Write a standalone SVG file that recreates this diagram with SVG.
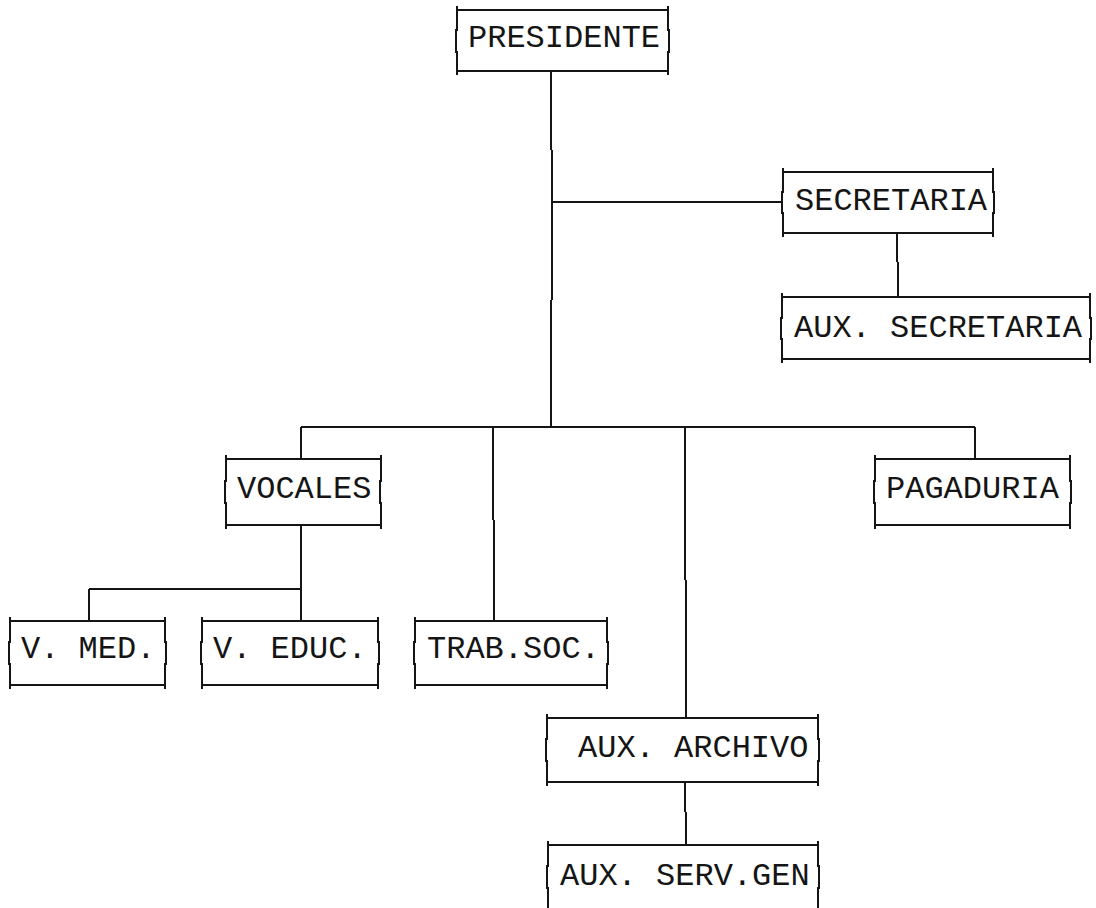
<svg xmlns="http://www.w3.org/2000/svg" width="1096" height="908" viewBox="0 0 1096 908">
<style>
.b{fill:none;stroke:#151515;stroke-width:2;stroke-linecap:square}
.c{fill:none;stroke:#151515;stroke-width:2}
.t{font-family:"Liberation Mono","DejaVu Sans Mono",monospace;font-size:32px;fill:#151515}
</style>
<rect width="1096" height="908" fill="#ffffff"/>
<g id="connectors">
<path class="c" d="M551 71 V150 M552 150 V300 M551 300 V427"/>
<path class="c" d="M551 202 H783"/>
<path class="c" d="M897 233 V262 M898 262 V297"/>
<path class="c" d="M301 427 H975"/>
<path class="c" d="M301 427 V459"/>
<path class="c" d="M493 427 V520 M494 520 V621"/>
<path class="c" d="M685 427 V580 M686 580 V718"/>
<path class="c" d="M975 427 V459"/>
<path class="c" d="M301 525 V589 M89 589 H301 M89 589 V621 M301 589 V621"/>
<path class="c" d="M685 782 V812 M686 812 V845"/>
</g>
<g id="presidente">
<path class="b" d="M457 10 H668 M457 71 H668 M457 7 V30 M456 30 V52 M457 52 V74 M668 7 V30 M669 30 V52 M668 52 V74"/>
<text class="t" x="468" y="47">PRESIDENTE</text>
</g>
<g id="secretaria">
<path class="b" d="M783 172 H993 M783 233 H993 M783 169 V192 M782 192 V213 M783 213 V236 M993 169 V192 M994 192 V213 M993 213 V236"/>
<text class="t" x="795" y="210">SECRETARIA</text>
</g>
<g id="aux-secretaria">
<path class="b" d="M782 297 H1090 M782 359 H1090 M782 294 V318 M781 318 V339 M782 339 V362 M1090 294 V318 M1091 318 V339 M1090 339 V362"/>
<text class="t" x="794" y="337">AUX. SECRETARIA</text>
</g>
<g id="vocales">
<path class="b" d="M226 459 H381 M226 525 H381 M226 456 V481 M225 481 V503 M226 503 V528 M381 456 V481 M380 481 V503 M381 503 V528"/>
<text class="t" x="237" y="498">VOCALES</text>
</g>
<g id="pagaduria">
<path class="b" d="M875 459 H1070 M875 525 H1070 M875 456 V481 M874 481 V503 M875 503 V528 M1070 456 V481 M1071 481 V503 M1070 503 V528"/>
<text class="t" x="886" y="498">PAGADURIA</text>
</g>
<g id="v-med">
<path class="b" d="M10 621 H165 M10 685 H165 M10 618 V642 M9 642 V664 M10 664 V688 M165 618 V642 M166 642 V664 M165 664 V688"/>
<text class="t" x="21" y="658">V. MED.</text>
</g>
<g id="v-educ">
<path class="b" d="M202 621 H378 M202 685 H378 M202 618 V642 M201 642 V664 M202 664 V688 M378 618 V642 M379 642 V664 M378 664 V688"/>
<text class="t" x="213" y="658">V. EDUC.</text>
</g>
<g id="trab-soc">
<path class="b" d="M415 621 H607 M415 685 H607 M415 618 V642 M414 642 V664 M415 664 V688 M607 618 V642 M608 642 V664 M607 664 V688"/>
<text class="t" x="427" y="658">TRAB.SOC.</text>
</g>
<g id="aux-archivo">
<path class="b" d="M547 718 H818 M547 782 H818 M547 715 V739 M546 739 V761 M547 761 V785 M818 715 V739 M819 739 V761 M818 761 V785"/>
<text class="t" x="578" y="757">AUX. ARCHIVO</text>
</g>
<g id="aux-serv-gen">
<path class="b" d="M548 845 H818 M548 842 V866 M547 866 V888 M548 888 V910 M818 842 V866 M819 866 V888 M818 888 V910"/>
<text class="t" x="560" y="885">AUX. SERV.GEN</text>
</g>
</svg>
